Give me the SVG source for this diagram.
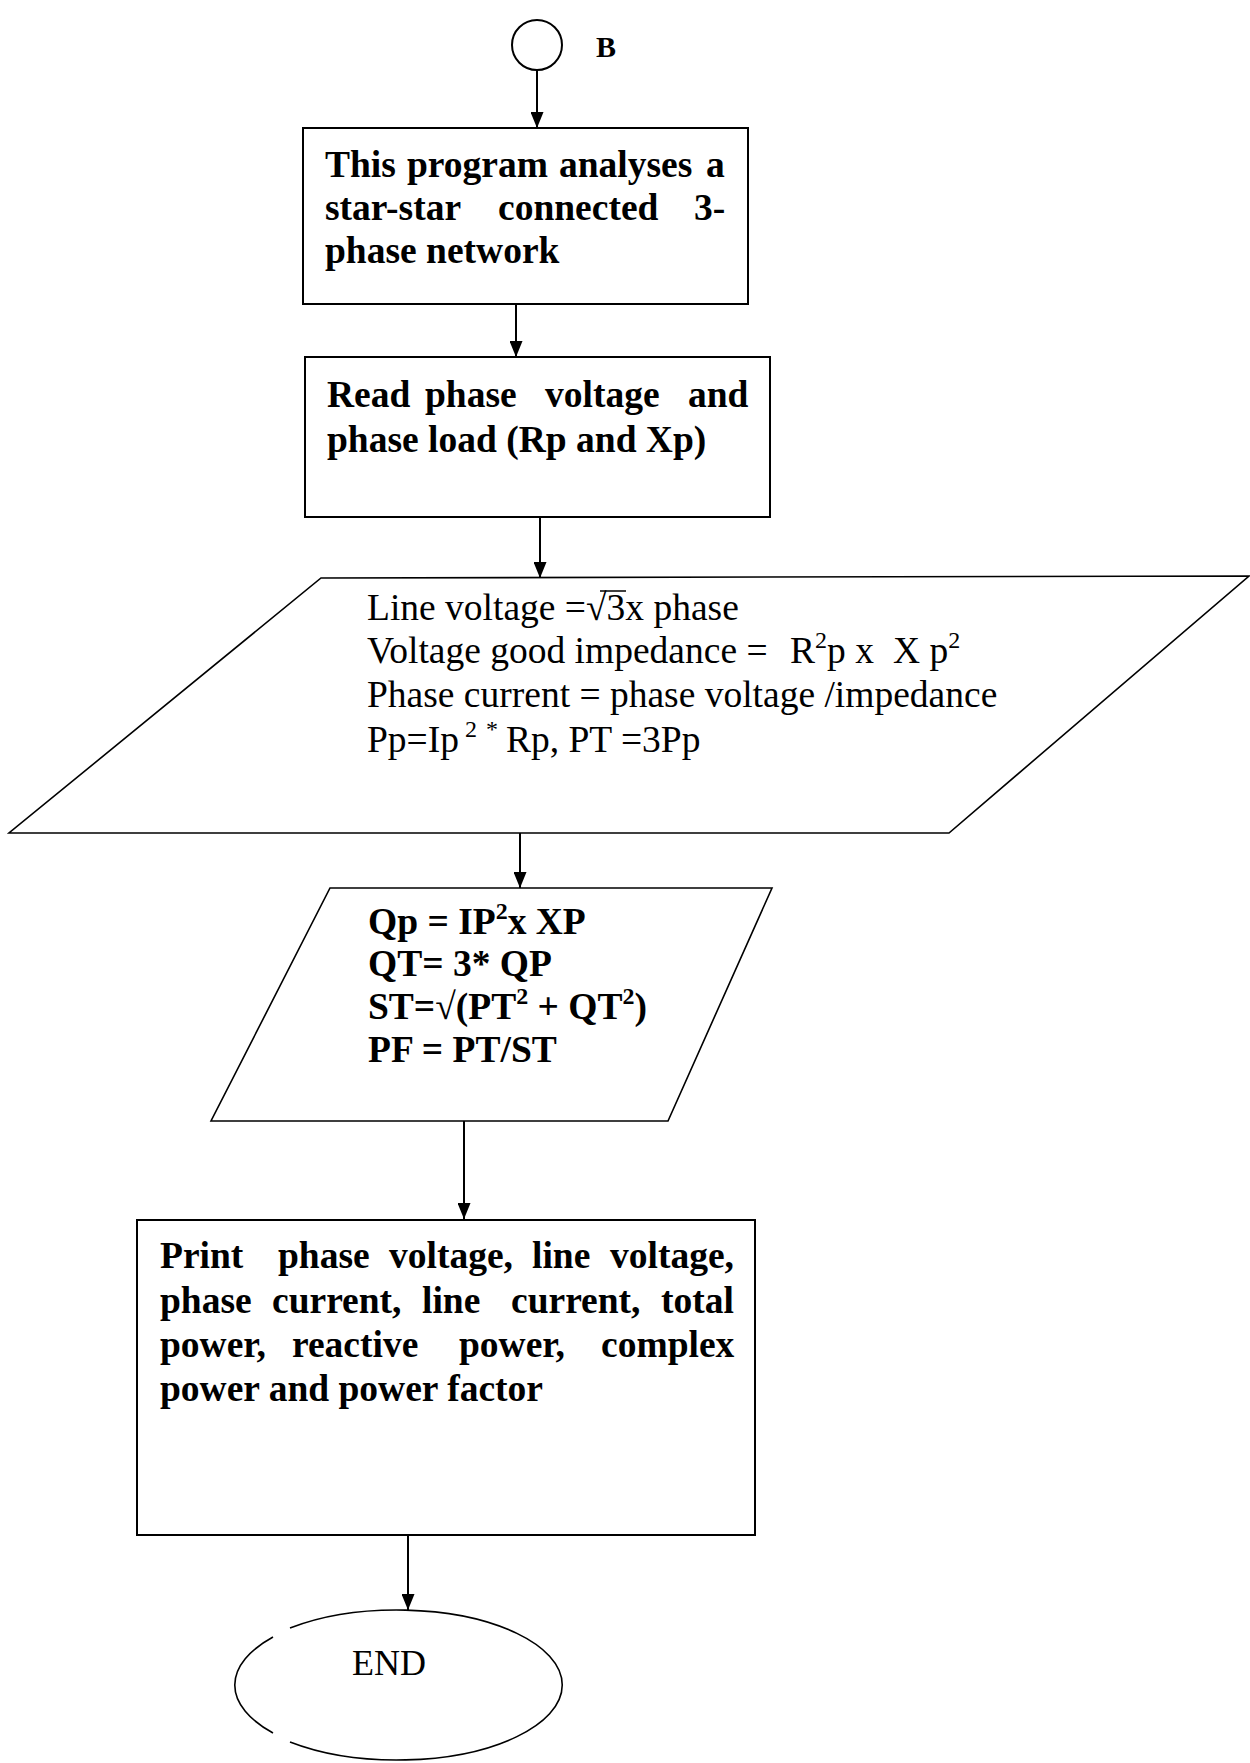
<svg xmlns="http://www.w3.org/2000/svg" width="1250" height="1763" viewBox="0 0 1250 1763">
  <defs>
    <style>
      .shape { fill: #ffffff; stroke: #000000; stroke-width: 2; }
      .thin { fill: #ffffff; stroke: #000000; stroke-width: 1.6; }
      .conn { fill: none; stroke: #000000; stroke-width: 2; }
      .bold { font-family: "Liberation Serif", "Times New Roman", serif; font-weight: bold; font-size: 37.5px; fill: #000; }
      .reg { font-family: "Liberation Serif", "Times New Roman", serif; font-size: 37.5px; fill: #000; }
      .sup { font-size: 24px; }
    </style>
    <marker id="arr" markerWidth="16" markerHeight="13" refX="16" refY="6.5" orient="auto" markerUnits="userSpaceOnUse">
      <path d="M0,0 L16,6.5 L0,13 z" fill="#000000"/>
    </marker>
  </defs>
  <rect x="0" y="0" width="1250" height="1763" fill="#ffffff"/>

  <g id="connectors">
    <path class="conn" d="M537,70 V128" marker-end="url(#arr)"/>
    <path class="conn" d="M516,304 V357" marker-end="url(#arr)"/>
    <path class="conn" d="M540,517 V578" marker-end="url(#arr)"/>
    <path class="conn" d="M520,833 V888" marker-end="url(#arr)"/>
    <path class="conn" d="M464,1121 V1219" marker-end="url(#arr)"/>
    <path class="conn" d="M408,1535 V1610" marker-end="url(#arr)"/>
  </g>

  <g id="start-B">
    <circle class="shape" cx="537" cy="45" r="25"/>
    <text class="bold" x="596" y="57" style="font-size:30px">B</text>
  </g>

  <g id="intro">
    <rect class="shape" x="303" y="128" width="445" height="176"/>
    <text class="bold" y="177"><tspan x="325">This</tspan><tspan x="407">program</tspan><tspan x="559">analyses</tspan><tspan x="706">a</tspan></text>
    <text class="bold" y="220"><tspan x="325">star-star</tspan><tspan x="498">connected</tspan><tspan x="694">3-</tspan></text>
    <text class="bold" x="325" y="263">phase network</text>
  </g>

  <g id="read-input">
    <rect class="shape" x="305" y="357" width="465" height="160"/>
    <text class="bold" y="407"><tspan x="327">Read</tspan><tspan x="425">phase</tspan><tspan x="545">voltage</tspan><tspan x="688">and</tspan></text>
    <text class="bold" x="327" y="452">phase load (Rp and Xp)</text>
  </g>

  <g id="calc-power">
    <polygon class="thin" points="321,578 1249,576 949,833 9,833"/>
    <text class="reg" x="367" y="620">Line voltage =√3x phase</text>
    <line x1="600" y1="591" x2="626" y2="591" stroke="#000" stroke-width="1.5"/>
    <text class="reg" x="367" y="663">Voltage good impedance =<tspan x="790">R</tspan><tspan class="sup" dy="-15">2</tspan><tspan dy="15">p x</tspan><tspan x="893">X p</tspan><tspan class="sup" dy="-15">2</tspan></text>
    <text class="reg" x="367" y="707">Phase current = phase voltage /impedance</text>
    <text class="reg" x="367" y="752">Pp=Ip<tspan class="sup" x="465" dy="-15">2</tspan><tspan class="sup" x="486">*</tspan><tspan dy="15" x="506">Rp, PT =3Pp</tspan></text>
  </g>

  <g id="calc-reactive">
    <polygon class="thin" points="330,888 772,888 668,1121 211,1121"/>
    <text class="bold" x="368" y="934">Qp = IP<tspan class="sup" dy="-15">2</tspan><tspan dy="15">x XP</tspan></text>
    <text class="bold" x="368" y="976">QT= 3* QP</text>
    <text class="bold" x="368" y="1019">ST=√(PT<tspan class="sup" dy="-15">2</tspan><tspan dy="15"> + QT</tspan><tspan class="sup" dy="-15">2</tspan><tspan dy="15">)</tspan></text>
    <text class="bold" x="368" y="1062">PF = PT/ST</text>
  </g>

  <g id="print-results">
    <rect class="shape" x="137" y="1220" width="618" height="315"/>
    <text class="bold" y="1268"><tspan x="160">Print</tspan><tspan x="278">phase</tspan><tspan x="389">voltage,</tspan><tspan x="532">line</tspan><tspan x="610">voltage,</tspan></text>
    <text class="bold" y="1313"><tspan x="160">phase</tspan><tspan x="272">current,</tspan><tspan x="422">line</tspan><tspan x="511">current,</tspan><tspan x="661">total</tspan></text>
    <text class="bold" y="1357"><tspan x="160">power,</tspan><tspan x="292">reactive</tspan><tspan x="459">power,</tspan><tspan x="601">complex</tspan></text>
    <text class="bold" x="160" y="1401">power and power factor</text>
  </g>

  <g id="end">
    <path class="thin" style="fill:none" d="M290,1628 A165,75 0 1 1 290,1742"/>
    <path class="thin" style="fill:none" d="M273,1733 A165,75 0 0 1 273,1637"/>
    <text class="reg" x="352" y="1675" style="font-size:36px">END</text>
  </g>
</svg>
